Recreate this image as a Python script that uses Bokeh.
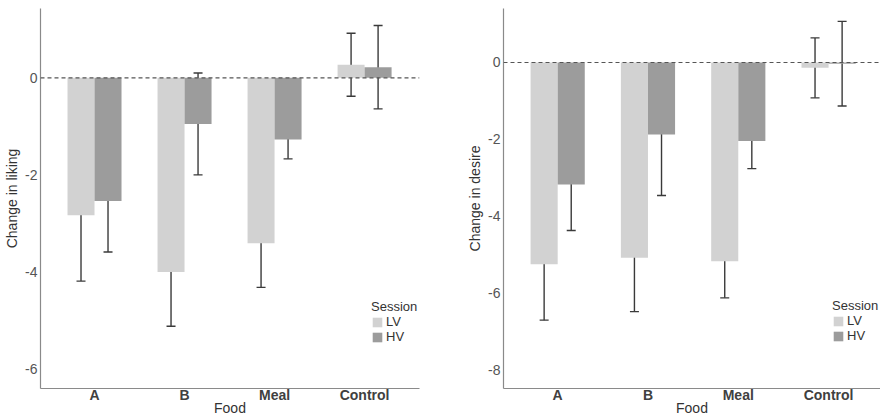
from bokeh.plotting import figure
from bokeh.models import (ColumnDataSource, Whisker, TeeHead, Span, Legend, LegendItem,
                          FixedTicker, Range1d)
from bokeh.transform import dodge
from bokeh.layouts import row
from bokeh.embed import file_html
from bokeh.resources import INLINE

categories = ["A", "B", "Meal", "Control"]
sessions = ["LV", "HV"]

liking_lv = [-2.83, -4.00, -3.41, 0.27]
liking_lv_err = [1.36, 1.12, 0.91, 0.65]
liking_hv = [-2.54, -0.95, -1.27, 0.22]
liking_hv_err = [1.05, 1.05, 0.40, 0.86]

desire_lv = [-5.25, -5.08, -5.17, -0.14]
desire_lv_err = [1.45, 1.40, 0.95, 0.78]
desire_hv = [-3.17, -1.87, -2.04, -0.03]
desire_hv_err = [1.20, 1.59, 0.72, 1.10]

liking_ticks = [-6, -4, -2, 0]
desire_ticks = [-8, -6, -4, -2, 0]

LV_COLOR = "#d2d2d2"
HV_COLOR = "#9c9c9c"
ERR_COLOR = "#3a3a3a"
AXIS_COLOR = "#8a8a8a"
FONT = "Liberation Sans"
FIG_H = 418


def make_panel(lv, lv_err, hv, hv_err, ylabel, yticks, y_range, x_end, width,
               border_left, border_right, legend_loc):
    x = list(range(1, len(categories) + 1))
    src = ColumnDataSource(dict(
        x=x, lv=lv, hv=hv,
        lv_up=[v + e for v, e in zip(lv, lv_err)],
        lv_lo=[v - e for v, e in zip(lv, lv_err)],
        hv_up=[v + e for v, e in zip(hv, hv_err)],
        hv_lo=[v - e for v, e in zip(hv, hv_err)],
    ))
    p = figure(width=width, height=FIG_H, output_backend="svg", toolbar_location=None,
               x_range=Range1d(0.4, x_end), y_range=Range1d(*y_range),
               min_border_left=border_left, min_border_right=border_right,
               min_border_top=8, min_border_bottom=0)
    p.outline_line_color = None
    p.grid.visible = False

    r_lv = p.vbar(x=dodge("x", -0.15), top="lv", bottom=0, width=0.3, source=src,
                  fill_color=LV_COLOR, line_color=None)
    r_hv = p.vbar(x=dodge("x", 0.15), top="hv", bottom=0, width=0.3, source=src,
                  fill_color=HV_COLOR, line_color=None)

    for off, up, lo in ((-0.15, "lv_up", "lv_lo"), (0.15, "hv_up", "hv_lo")):
        w = Whisker(base=dodge("x", off), upper=up, lower=lo, source=src,
                    line_color=ERR_COLOR, line_width=1.4,
                    upper_head=TeeHead(size=9, line_color=ERR_COLOR, line_width=1.4),
                    lower_head=TeeHead(size=9, line_color=ERR_COLOR, line_width=1.4))
        p.add_layout(w)

    p.add_layout(Span(location=0, dimension="width", line_color="#555555",
                      line_dash="4 3", line_width=1.2))

    # axes
    p.xaxis.ticker = FixedTicker(ticks=x)
    p.xaxis.major_label_overrides = {i: c for i, c in zip(x, categories)}
    p.xaxis.major_label_text_font_style = "bold"
    p.xaxis.major_label_text_color = "#404040"
    p.yaxis.ticker = FixedTicker(ticks=yticks)
    p.yaxis.major_label_overrides = {t: str(t) for t in yticks}
    p.yaxis.major_label_text_color = "#555555"
    for ax in (p.xaxis, p.yaxis):
        ax.axis_line_color = AXIS_COLOR
        ax.axis_line_width = 1.2
        ax.major_tick_line_color = None
        ax.minor_tick_line_color = None
        ax.major_tick_out = 0
        ax.major_tick_in = 0
        ax.major_label_text_font = FONT
        ax.major_label_text_font_size = "14px"
        ax.axis_label_text_font = FONT
        ax.axis_label_text_font_size = "14px"
        ax.axis_label_text_font_style = "normal"
        ax.axis_label_text_color = "#333333"
    p.xaxis.major_label_standoff = -2
    p.xaxis.axis_label_standoff = -6
    p.yaxis.major_label_standoff = 3
    p.yaxis.axis_label_standoff = 2
    p.xaxis.axis_label = "Food"
    p.yaxis.axis_label = ylabel

    legend = Legend(items=[LegendItem(label=sessions[0], renderers=[r_lv]),
                           LegendItem(label=sessions[1], renderers=[r_hv])],
                    location=legend_loc, title="Session",
                    title_text_font=FONT, title_text_font_size="13px",
                    title_text_font_style="normal", title_text_color="#333333",
                    title_standoff=0,
                    label_text_font=FONT, label_text_font_size="13px",
                    label_text_color="#333333",
                    glyph_width=12, glyph_height=12, label_height=12,
                    label_standoff=3, spacing=0, padding=0, margin=0,
                    border_line_color=None, background_fill_alpha=0)
    p.add_layout(legend)
    return p


p1 = make_panel(liking_lv, liking_lv_err, liking_hv, liking_hv_err, "Change in liking",
                liking_ticks, (-6.404, 1.43), 4.61, 440, 40, 21, (331, 44))
p2 = make_panel(desire_lv, desire_lv_err, desire_hv, desire_hv_err, "Change in desire",
                desire_ticks, (-8.478, 1.404), 4.575, 440, 63, 0, (329, 45))

p = row(p1, p2)
open("out.html", "w").write(file_html(p, INLINE))
